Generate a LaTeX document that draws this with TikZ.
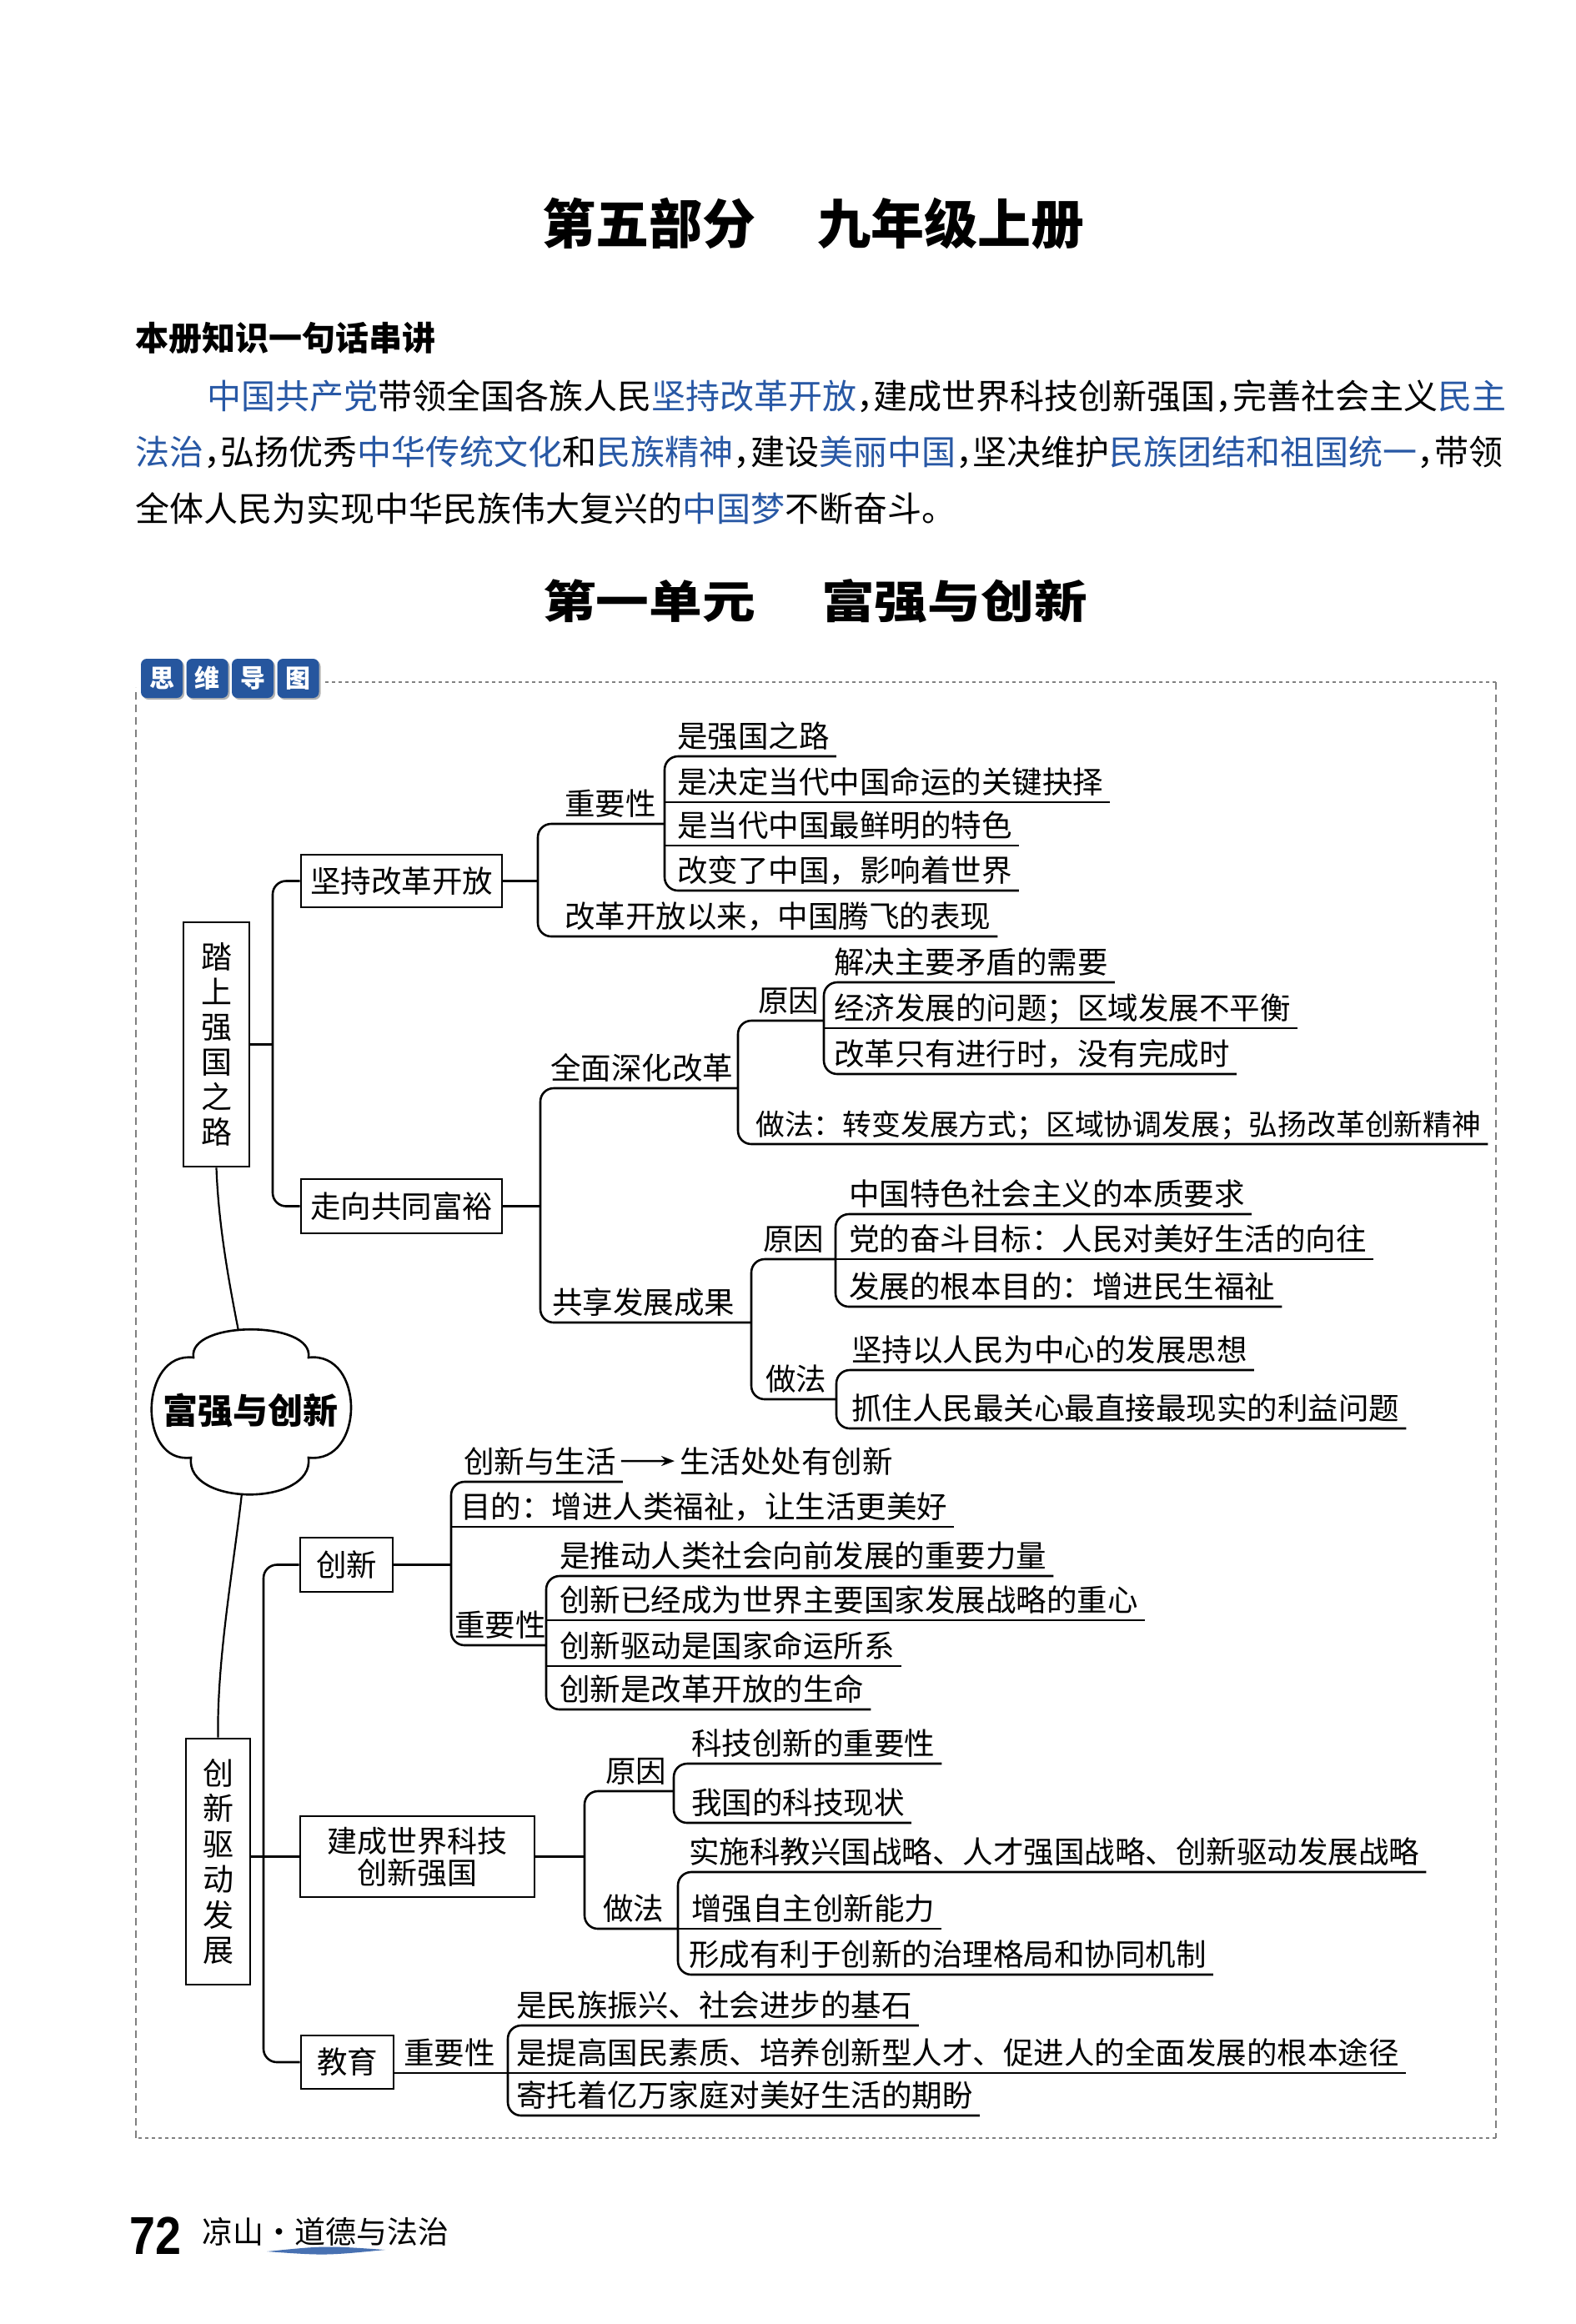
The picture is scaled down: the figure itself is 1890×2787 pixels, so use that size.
\documentclass[tikz,border=0pt]{standalone}
\usepackage{fontspec}
\usepackage{graphicx}
\setmainfont{Noto Sans CJK SC}
\newfontfamily\lib{Liberation Sans}
\usetikzlibrary{arrows.meta,calc}
\definecolor{bl}{RGB}{40,88,165}
\definecolor{badge}{RGB}{38,86,158}
\newcommand\mf{\fontsize{36.5}{42}\selectfont}
\newcommand\hc{\makebox[0.5em][l]{，}}
\begin{document}
\begin{tikzpicture}[x=1pt,y=-1pt,
  ln/.style={line width=2.6pt, rounded corners=16pt},
  bx/.style={draw, line width=2.6pt, inner sep=0pt, font=\mf},
  tx/.style={anchor=base west, inner sep=0pt, font=\mf},
  ptx/.style={anchor=base west, inner sep=0pt, font=\fontsize{41}{41}\selectfont},
  arr/.style={line width=2.4pt, -{Stealth[length=16pt,width=12pt]}, shorten <=6pt, shorten >=6pt},
  cn/.style={line width=2.2pt},
  fdot/.style={line width=1.6pt, gray, dash pattern=on 4pt off 4pt},
  fdash/.style={line width=1.6pt, gray, dash pattern=on 9pt off 6pt}]
\useasboundingbox (0,0) rectangle (1890,2787);
\fill[white] (0,0) rectangle (1890,2787);

% ---------- headings ----------
\node[anchor=base west, inner sep=0pt, font=\bfseries\fontsize{64}{64}\selectfont] (t1) at (650,292) {第五部分};
\node[anchor=base west, inner sep=0pt, font=\bfseries\fontsize{64}{64}\selectfont] (t2) at (980,292) {九年级上册};
\node[anchor=base west, inner sep=0pt, font=\bfseries\fontsize{40}{40}\selectfont] (h1) at (162,420) {本册知识一句话串讲};
\node[ptx] (p1) at (248,490) {\textcolor{bl}{中国共产党}带领全国各族人民\textcolor{bl}{坚持改革开放}\hc 建成世界科技创新强国\hc 完善社会主义\textcolor{bl}{民主}};
\node[ptx] (p2) at (162,557) {\textcolor{bl}{法治}\hc 弘扬优秀\textcolor{bl}{中华传统文化}和\textcolor{bl}{民族精神}\hc 建设\textcolor{bl}{美丽中国}\hc 坚决维护\textcolor{bl}{民族团结和祖国统一}\hc 带领};
\node[ptx] (p3) at (162,625) {全体人民为实现中华民族伟大复兴的\textcolor{bl}{中国梦}不断奋斗。};
\node[anchor=base west, inner sep=0pt, font=\bfseries\fontsize{54}{54}\selectfont] (u1) at (651,741) {\scalebox{1.18}[1]{第一单元}};
\node[anchor=base west, inner sep=0pt, font=\bfseries\fontsize{54}{54}\selectfont] (u2) at (985,741) {\scalebox{1.18}[1]{富强与创新}};

% ---------- badge and frame ----------
\foreach \i/\c in {0/思,1/维,2/导,3/图}{
  \fill[gray!60, rounded corners=7pt] (171+54.5*\i,792) rectangle ++(50,47);
  \fill[badge, rounded corners=7pt] (169+54.5*\i,790) rectangle ++(50,47);
  \node[white, inner sep=0pt, font=\bfseries\fontsize{30}{30}\selectfont] (bd\i) at (194+54.5*\i,813.5) {\c};
}
\draw[fdot] (390,818) -- (1794,818);
\draw[fdash] (1794,818) -- (1794,2564);
\draw[fdot] (1794,2564) -- (163,2564);
\draw[fdash] (163,2564) -- (163,824);

% ---------- main boxes ----------
\node[bx, minimum width=79pt, minimum height=293pt, align=center, font=\fontsize{37}{42}\selectfont] (road) at (259.5,1252.5) {踏\\上\\强\\国\\之\\路};
\node[bx, minimum width=77pt, minimum height=295pt, align=center, font=\fontsize{37}{42.5}\selectfont] (cb) at (261.5,2232.5) {创\\新\\驱\\动\\发\\展};
\node[bx, minimum width=241pt, minimum height=63pt] (kg) at (481.5,1056.5) {坚持改革开放};
\node[bx, minimum width=241pt, minimum height=65pt] (gf) at (481.5,1446.5) {走向共同富裕};
\node[bx, minimum width=111pt, minimum height=65pt] (cx) at (415.5,1876.5) {创新};
\node[bx, minimum width=281pt, minimum height=97pt, align=center, font=\fontsize{36}{38}\selectfont] (js) at (500.5,2226.5) {建成世界科技\\创新强国};
\node[bx, minimum width=111pt, minimum height=64pt] (jy) at (416.5,2473) {教育};

% ---------- cloud ----------
\draw[line width=2.6pt] (232,1628) .. controls (225,1583) and (377,1583) .. (370,1628)
  .. controls (438,1620) and (438,1756) .. (370,1748)
  .. controls (377,1807) and (222,1807) .. (229,1748)
  .. controls (164,1756) and (167,1620) .. (232,1628) -- cycle;
\node[inner sep=0pt, font=\bfseries\fontsize{42}{42}\selectfont] (cloud) at (300,1691) {富强与创新};
\coordinate (ctop) at (286,1596);
\coordinate (cbot) at (290,1791);
\draw[cn] (road.south) .. controls (262,1470) and (275,1540) .. (ctop);
\draw[cn] (cbot) .. controls (280,1880) and (260,1990) .. (cb.north);

% ---------- spines ----------
\draw[ln] (kg.west) -- (327,1056.5) -- (327,1446.5) -- (gf.west);
\draw[ln] (road.east) -- (327,1252.5);
\draw[ln] (cx.west) -- (316,1876.5) -- (316,2473) -- (jy.west);
\draw[ln] (cb.east |- js.west) -- (js.west);

% ---------- tree A ----------
\node[tx] (a0) at (677,977) {重要性};
\node[tx] (a1) at (812,896) {是强国之路};
\node[tx] (a2) at (812,951) {是决定当代中国命运的关键抉择};
\node[tx] (a3) at (812,1003) {是当代中国最鲜明的特色};
\node[tx] (a4) at (812,1057) {改变了中国，影响着世界};
\node[tx] (a5) at (677,1112) {改革开放以来，中国腾飞的表现};
\draw[ln] (kg.east) -- (645,1056.5);
\draw[ln] (797,988) -- (645,988) -- (645,1123) -- ($(a5.base east)+(8,11)$);
\draw[ln] ($(a1.base east)+(8,11)$) -- (797,907) -- (797,1068) -- ($(a4.base east)+(8,11)$);
\draw[ln] (797,962) -- ($(a2.base east)+(8,11)$);
\draw[ln] (797,1014) -- ($(a3.base east)+(8,11)$);

% ---------- tree B ----------
\node[tx] (b0) at (660,1294) {全面深化改革};
\node[tx] (b1) at (662,1575) {共享发展成果};
\node[tx] (b2) at (909,1213) {原因};
\node[tx, font=\fontsize{34.8}{40}\selectfont] (b3) at (906,1361) {做法：转变发展方式；区域协调发展；弘扬改革创新精神};
\node[tx] (b4) at (1000,1167) {解决主要矛盾的需要};
\node[tx] (b5) at (1000,1222) {经济发展的问题；区域发展不平衡};
\node[tx] (b6) at (1000,1277) {改革只有进行时，没有完成时};
\node[tx] (b7) at (915,1499) {原因};
\node[tx] (b8) at (918,1667) {做法};
\node[tx] (b9) at (1018,1445) {中国特色社会主义的本质要求};
\node[tx] (b10) at (1018,1499) {党的奋斗目标：人民对美好生活的向往};
\node[tx] (b11) at (1018,1556) {发展的根本目的：增进民生福祉};
\node[tx] (b12) at (1021,1632) {坚持以人民为中心的发展思想};
\node[tx] (b13) at (1021,1702) {抓住人民最关心最直接最现实的利益问题};
\draw[ln] (gf.east) -- (648,1446.5);
\draw[ln] (885,1305) -- (648,1305) -- (648,1586) -- (901,1586);
\draw[ln] (988,1224) -- (885,1224) -- (885,1372) -- ($(b3.base east)+(8,11)$);
\draw[ln] ($(b4.base east)+(8,11)$) -- (988,1178) -- (988,1288) -- ($(b6.base east)+(8,11)$);
\draw[ln] (988,1233) -- ($(b5.base east)+(8,11)$);
\draw[ln] (1002,1510) -- (901,1510) -- (901,1678) -- (1003,1678);
\draw[ln] ($(b9.base east)+(8,11)$) -- (1002,1456) -- (1002,1567) -- ($(b11.base east)+(8,11)$);
\draw[ln] (1002,1510) -- ($(b10.base east)+(8,11)$);
\draw[ln] ($(b12.base east)+(8,11)$) -- (1003,1643) -- (1003,1713) -- ($(b13.base east)+(8,11)$);

% ---------- tree C ----------
\node[tx] (c1) at (556,1766) {创新与生活};
\node[tx] (c1b) at (815,1766) {生活处处有创新};
\node[tx] (c2) at (552,1820) {目的：增进人类福祉，让生活更美好};
\node[tx] (c3) at (545,1962) {重要性};
\node[tx] (c4) at (671,1879) {是推动人类社会向前发展的重要力量};
\node[tx] (c5) at (671,1932) {创新已经成为世界主要国家发展战略的重心};
\node[tx] (c6) at (671,1987) {创新驱动是国家命运所系};
\node[tx] (c7) at (671,2039) {创新是改革开放的生命};
\draw[arr] (c1.east) -- (c1b.west);
\draw[ln] (cx.east) -- (541,1876.5);
\draw[ln] ($(c1.base east)+(8,11)$) -- (541,1777) -- (541,1973) -- (655,1973);
\draw[ln] (541,1831) -- ($(c2.base east)+(8,11)$);
\draw[ln] ($(c4.base east)+(8,11)$) -- (655,1890) -- (655,2050) -- ($(c7.base east)+(8,11)$);
\draw[ln] (655,1943) -- ($(c5.base east)+(8,11)$);
\draw[ln] (655,1998) -- ($(c6.base east)+(8,11)$);

% ---------- tree D ----------
\node[tx] (d1) at (726,2137) {原因};
\node[tx] (d2) at (723,2302) {做法};
\node[tx] (d3) at (829,2104) {科技创新的重要性};
\node[tx] (d4) at (829,2175) {我国的科技现状};
\node[tx] (d5) at (826,2234) {实施科教兴国战略、人才强国战略、创新驱动发展战略};
\node[tx] (d6) at (829,2302) {增强自主创新能力};
\node[tx] (d7) at (826,2357) {形成有利于创新的治理格局和协同机制};
\draw[ln] (js.east) -- (701,2226.5);
\draw[ln] (808,2148) -- (701,2148) -- (701,2313) -- (813,2313);
\draw[ln] ($(d3.base east)+(8,11)$) -- (808,2115) -- (808,2186) -- ($(d4.base east)+(8,11)$);
\draw[ln] ($(d5.base east)+(8,11)$) -- (813,2245) -- (813,2368) -- ($(d7.base east)+(8,11)$);
\draw[ln] (813,2313) -- ($(d6.base east)+(8,11)$);

% ---------- tree E ----------
\node[tx] (e0) at (484,2475) {重要性};
\node[tx] (e1) at (619,2418) {是民族振兴、社会进步的基石};
\node[tx] (e2) at (619,2475) {是提高国民素质、培养创新型人才、促进人的全面发展的根本途径};
\node[tx] (e3) at (619,2526) {寄托着亿万家庭对美好生活的期盼};
\draw[ln] ($(jy.east)+(0,13)$) -- (609,2486);
\draw[ln] ($(e1.base east)+(8,11)$) -- (609,2429) -- (609,2537) -- ($(e3.base east)+(8,11)$);
\draw[ln] (609,2486) -- ($(e2.base east)+(8,11)$);

% ---------- footer ----------
\node[anchor=base west, inner sep=0pt, font=\lib\bfseries\fontsize{64}{64}\selectfont] (pg) at (155,2703) {\scalebox{0.87}[1]{72}};
\node[anchor=base west, inner sep=0pt, font=\fontsize{37}{37}\selectfont] (ft) at (242,2690) {凉山\makebox[1em][c]{·}道德与法治};
\fill[bl!85] (320,2700) .. controls (390,2693) .. (462,2698) .. controls (390,2705) .. (320,2700) -- cycle;
\end{tikzpicture}
\end{document}
